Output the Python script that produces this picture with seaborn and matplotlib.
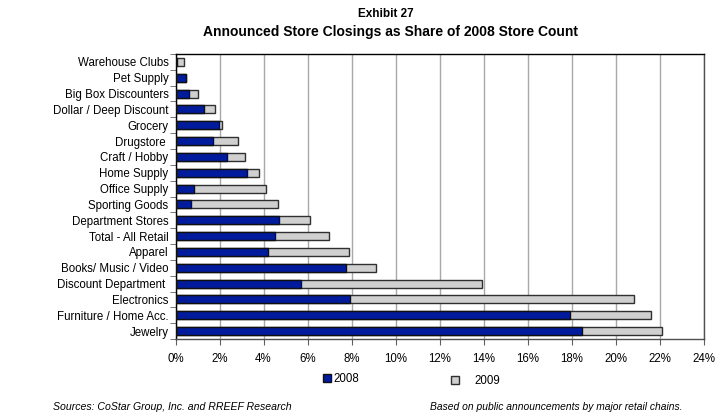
import pandas as pd
import seaborn as sns
import matplotlib.pyplot as plt
from matplotlib.patches import Patch
from matplotlib.ticker import PercentFormatter, FixedLocator

categories = [
    "Warehouse Clubs", "Pet Supply", "Big Box Discounters", "Dollar / Deep Discount",
    "Grocery", "Drugstore ", "Craft / Hobby", "Home Supply", "Office Supply",
    "Sporting Goods", "Department Stores", "Total - All Retail", "Apparel",
    "Books/ Music / Video", "Discount Department ", "Electronics",
    "Furniture / Home Acc.", "Jewelry",
]
closings_2008 = [0.05, 0.46, 0.60, 1.28, 1.96, 1.69, 2.34, 3.24, 0.86,
                 0.69, 4.70, 4.51, 4.22, 7.75, 5.70, 7.92, 17.92, 18.48]
closings_2009 = [0.35, 0.00, 0.42, 0.52, 0.17, 1.15, 0.80, 0.57, 3.24,
                 3.95, 1.40, 2.45, 3.65, 1.35, 8.25, 12.93, 3.71, 3.65]

df = pd.DataFrame({"category": categories, "y2008": closings_2008, "y2009": closings_2009})
df["total"] = df["y2008"] + df["y2009"]

sns.set_style("white")
plt.rcParams["font.family"] = ["Liberation Sans", "DejaVu Sans"]
plt.rcParams["text.color"] = "black"

blue = "#001C9C"
grey = "#D0D0D0"

fig = plt.figure(figsize=(7.17, 4.15), dpi=100)
ax = fig.add_axes([0.2448, 0.1831, 0.7364, 0.6868])

# grey bar = 2008 + 2009, blue 2008 part drawn on top
sns.barplot(data=df, y="category", x="total", color=grey, width=0.5,
            edgecolor="#303030", linewidth=1, saturation=1, ax=ax, zorder=3)
sns.barplot(data=df, y="category", x="y2008", color=blue, width=0.5,
            edgecolor="#101010", linewidth=1, saturation=1, ax=ax, zorder=4)

ax.set_xlim(0, 24)
ax.set_ylim(len(categories) - 0.5, -0.5)
ax.set_xticks(range(0, 25, 2))
ax.xaxis.set_major_formatter(PercentFormatter(decimals=0))
ax.set_xlabel("")
ax.set_ylabel("")
ax.grid(axis="x", color="#A8A8A8", linewidth=1, zorder=0)
ax.set_axisbelow(True)

ax.tick_params(axis="y", which="major", length=0, labelsize=8.3, pad=5, labelcolor="black")
ax.yaxis.set_minor_locator(FixedLocator([i - 0.5 for i in range(len(categories) + 1)]))
ax.tick_params(axis="y", which="minor", length=4, color="#606060", direction="out", left=True)
ax.tick_params(axis="x", length=4, color="#606060", direction="out", bottom=True,
               labelsize=8.3, pad=6, labelcolor="black")

for side in ["top", "left"]:
    ax.spines[side].set_color("#000000")
for side in ["right", "bottom"]:
    ax.spines[side].set_color("#505050")
for s in ax.spines.values():
    s.set_linewidth(1)

fig.text(0.538, 1 - 14 / 415, "Exhibit 27", ha="center", va="center",
         fontsize=8.5, fontweight="bold")
fig.text(0.544, 1 - 32 / 415, "Announced Store Closings as Share of 2008 Store Count",
         ha="center", va="center", fontsize=10, fontweight="bold")

leg1 = fig.legend(handles=[Patch(facecolor=blue, edgecolor="#101010", label="2008")],
                  loc="center left", bbox_to_anchor=(323 / 717, 1 - 379 / 415),
                  frameon=False, fontsize=8.3, handlelength=0.7, handleheight=0.7,
                  handletextpad=0.2, borderpad=0, borderaxespad=0)
fig.legend(handles=[Patch(facecolor=grey, edgecolor="#303030", label="2009")],
           loc="center left", bbox_to_anchor=(451 / 717, 1 - 381 / 415),
           frameon=False, fontsize=8.3, handlelength=0.7, handleheight=0.7,
           handletextpad=1.3, borderpad=0, borderaxespad=0)

fig.text(53 / 717, 1 - 407 / 415, "Sources: CoStar Group, Inc. and RREEF Research",
         ha="left", va="center", fontsize=7.6, style="italic")
fig.text(683 / 717, 1 - 407 / 415, "Based on public announcements by major retail chains.",
         ha="right", va="center", fontsize=7.4, style="italic")

fig.savefig("out.png", dpi=100)
